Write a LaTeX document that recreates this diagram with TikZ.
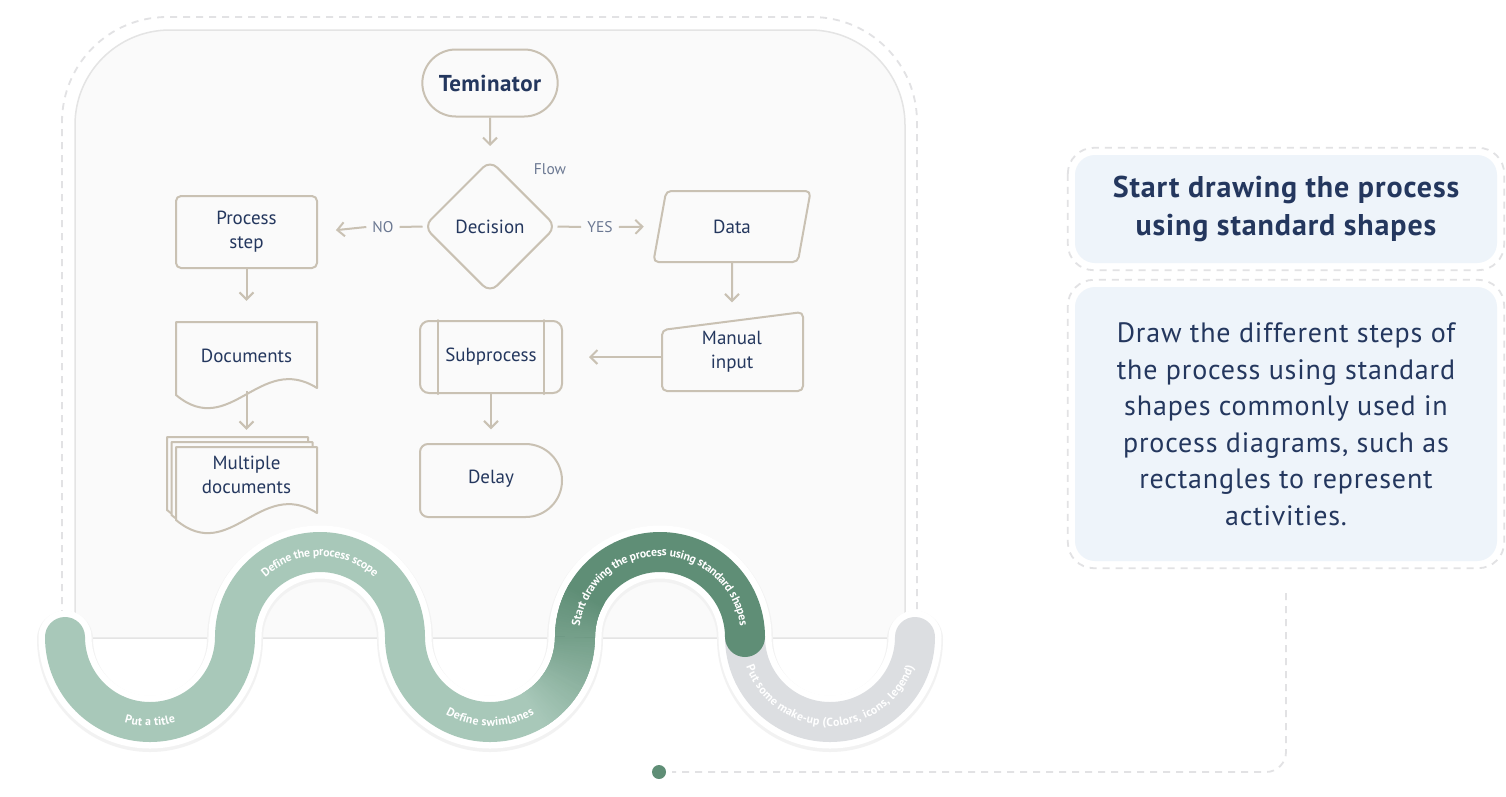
\documentclass[tikz,border=0pt]{standalone}
\usepackage{fontspec}
\setmainfont{PT Sans}
\usetikzlibrary{shapes.geometric,shapes.misc,arrows.meta,decorations.text,calc}
\definecolor{navy}{HTML}{24375E}
\definecolor{shapec}{HTML}{C9C1B3}
\definecolor{panelfill}{HTML}{FAFAFA}
\definecolor{panelline}{HTML}{E4E4E4}
\definecolor{dashc}{HTML}{E2E2E4}
\definecolor{lgreen}{HTML}{A8C8B9}
\definecolor{dgreen}{HTML}{5F8E76}
\definecolor{sgray}{HTML}{DCDEE1}
\definecolor{boxfill}{HTML}{EEF4FA}
\definecolor{flowc}{HTML}{6B7892}
\definecolor{halo}{HTML}{F2F2F2}
\newcommand\snk{\color{white}\fontsize{11.8}{14}\selectfont\bfseries}
\tikzset{
  fcline/.style={draw=shapec, line width=2pt, line cap=round, line join=round},
  fctext/.style={text=navy, font=\fontsize{19}{24}\selectfont, align=center, inner sep=0pt},
  term/.style={rounded rectangle, fcline, minimum width=142pt, minimum height=67pt, text=navy, font=\fontsize{23}{26}\selectfont\bfseries\addfontfeature{LetterSpace=2}},
  dec/.style={diamond, fcline, minimum width=133pt, minimum height=133pt, rounded corners=10pt, inner sep=0pt, fctext},
  fl/.style={text=flowc, font=\fontsize{15.5}{18}\selectfont, inner sep=6pt},
  procbox/.style={rectangle, fcline, rounded corners=5pt, minimum width=141pt, minimum height=72pt, fctext},
  plainbox/.style={rectangle, fctext},
  datab/.style={trapezium, trapezium left angle=75, trapezium right angle=105, trapezium stretches=true, fcline, rounded corners=5pt, minimum width=158pt, minimum height=71pt, fctext},
  ln/.style={draw=shapec, line width=2pt},
  arr/.style={draw=shapec, line width=2pt, -{Straight Barb[length=7pt,width=14pt]}},
  tbox/.style={rectangle, fill=boxfill, rounded corners=20pt, minimum width=422pt, text=navy, align=center},
  dashl/.style={draw=dashc, line width=1.8pt, dash pattern=on 7pt off 6pt},
  snaketxt/.style={decorate, decoration={text along path, text align=center, raise=-4pt, text={#1}}}
}
\begin{document}
\begin{tikzpicture}[x=1pt, y=-1pt]
\fill[white] (0,0) rectangle (1506,796);
\useasboundingbox (0,0) rectangle (1506,796);

% panel
\filldraw[fill=panelfill, draw=panelline, line width=1.5pt] (75,638) -- (75,125) arc[start angle=180,end angle=270,radius=95] -- (810,30) arc[start angle=270,end angle=360,radius=95] -- (905,638) -- cycle;
\draw[dashl] (62,617) -- (62,122) arc[start angle=180,end angle=270,radius=105] -- (812,17) arc[start angle=270,end angle=360,radius=105] -- (917,617);

% flowchart
\node[term] (term) at (490,83) {Teminator};
\node[dec] (dec) at (490,226.5) {Decision};
\node[fl] (flow) at (550,169) {Flow};
\node[fl] (no) at (383,227) {NO};
\node[fl] (yes) at (600,227) {YES};
\node[procbox] (proc) at (246.5,232) {Process\\step};
\node[datab] (data) at (732,226.5) {Data};

\node[plainbox, minimum width=141pt, minimum height=79pt] (man) at (732,352) {Manual\\input};
\draw[fcline, rounded corners=5pt] (662,391) -- (662,330) -- (803,312) -- (803,391) -- cycle;

\node[procbox, rounded corners=9pt, minimum width=142pt] (sub) at (491,357) {Subprocess};
\draw[fcline] ([xshift=19pt]sub.north west) -- ([xshift=19pt]sub.south west);
\draw[fcline] ([xshift=-19pt]sub.north east) -- ([xshift=-19pt]sub.south east);

\node[plainbox, minimum width=142pt, minimum height=73pt] (delay) at (491,479) {Delay};
\draw[fcline] (525.5,444) -- (428,444) arc[start angle=270,end angle=180,radius=8] -- (420,509) arc[start angle=180,end angle=90,radius=8] -- (525.5,517) arc[start angle=90,end angle=-90,radius=36.5] -- cycle;

\draw[fcline] (176,395) -- (176,322) -- (317,322) -- (317,388) .. controls (260,352) and (230,440) .. (176,395) -- cycle;
\node[plainbox, minimum width=141pt, minimum height=70pt] (doc) at (246.5,356) {Documents};

\filldraw[fcline, fill=panelfill] (167,510) -- (167,437) -- (308,437) -- (308,503) .. controls (251,467) and (221,555) .. (167,510) -- cycle;
\filldraw[fcline, fill=panelfill] (171.5,515) -- (171.5,442) -- (312.5,442) -- (312.5,508) .. controls (255.5,472) and (225.5,560) .. (171.5,515) -- cycle;
\filldraw[fcline, fill=panelfill] (176,520) -- (176,447) -- (317,447) -- (317,513) .. controls (260,477) and (230,565) .. (176,520) -- cycle;
\node[plainbox, minimum width=141pt, minimum height=56pt] (mdoc) at (246.5,475) {Multiple\\documents};

% connectors
\draw[arr, shorten >=13pt] (term) -- (dec);
\draw[ln] (dec.west) -- (no.east);
\draw[arr, shorten >=18pt] (no.west) -- (proc.east);
\draw[ln] (dec.east) -- (yes.west);
\draw[arr, shorten >=15pt] (yes.east) -- (data.west);
\draw[arr, shorten >=10pt] (data.south) -- (man.north);
\draw[arr, shorten >=26pt] (man.west |- sub.east) -- (sub.east);
\draw[arr, shorten >=13pt] (sub) -- (delay);
\draw[arr, shorten >=20pt] (proc) -- (doc);
\draw[arr, shorten >=17pt] (doc) -- (mdoc);

% snake band
\draw[halo, line width=56pt, line cap=round] (65,639) arc[start angle=180,end angle=0,radius=85] arc[start angle=180,end angle=360,radius=85] arc[start angle=180,end angle=0,radius=85] arc[start angle=180,end angle=360,radius=85] arc[start angle=180,end angle=0,radius=85];
\draw[white, line width=53pt, line cap=round] (65,637) arc[start angle=180,end angle=0,radius=85] arc[start angle=180,end angle=360,radius=85] arc[start angle=180,end angle=0,radius=85] arc[start angle=180,end angle=360,radius=85] arc[start angle=180,end angle=0,radius=85];
\draw[lgreen, line width=40pt, line cap=round] (65,637) arc[start angle=180,end angle=0,radius=85] arc[start angle=180,end angle=360,radius=85] arc[start angle=180,end angle=0,radius=85];
\draw[sgray, line width=40pt, line cap=round] (745,637) arc[start angle=180,end angle=0,radius=85];
\foreach \i in {0,...,39} {
  \pgfmathsetmacro\a{60-1.5*\i}
  \pgfmathtruncatemacro\p{70*\i/39}
  \draw[dgreen!\p!lgreen, line width=40pt] ($(490,637)+(\a:85)$) arc[start angle=\a, end angle=\a-3, radius=85];
}
\draw[dgreen, line width=40pt] (575,637) arc[start angle=180,end angle=360,radius=85];
\foreach \i in {0,...,19} {
  \pgfmathsetmacro\a{180+1.5*\i}
  \pgfmathtruncatemacro\p{70+30*\i/19}
  \draw[dgreen!\p!lgreen, line width=40pt] ($(660,637)+(\a:85)$) arc[start angle=\a, end angle=\a+3, radius=85];
}
\fill[dgreen] (745,637) circle[radius=20];

\path[snaketxt={|\snk|Put a title}] (65,637) arc[start angle=180,end angle=0,radius=85];
\path[snaketxt={|\snk|Define the process scope}] (235,637) arc[start angle=180,end angle=360,radius=85];
\path[snaketxt={|\snk|Define swimlanes}] (405,637) arc[start angle=180,end angle=0,radius=85];
\path[snaketxt={|\snk|Start drawing the process using standard shapes}] (575,655) -- (575,637) arc[start angle=180,end angle=360,radius=85] -- (745,655);
\path[snaketxt={|\snk|Put some make-up (Colors, icons, legend)}] (745,637) arc[start angle=180,end angle=0,radius=85];

% right boxes
\node[tbox, minimum height=108pt, font=\fontsize{30}{38}\selectfont\bfseries\addfontfeature{LetterSpace=3}] (title) at (1286,209) {Start drawing the process\\using standard shapes};
\draw[dashl, rounded corners=26pt] ($(title.north west)+(-7,-7)$) rectangle ($(title.south east)+(7,7)$);
\node[tbox, minimum height=274pt, font=\fontsize{28}{36.5}\selectfont\addfontfeature{LetterSpace=3}] (body) at (1286,424) {Draw the different steps of\\the process using standard\\shapes commonly used in\\process diagrams, such as\\rectangles to represent\\activities.};
\draw[dashl, rounded corners=26pt] ($(body.north west)+(-7,-7)$) rectangle ($(body.south east)+(7,7)$);

\coordinate (cstart) at ($(body.south)+(0,32)$);
\node[circle, fill=dgreen, minimum size=14pt, inner sep=0pt] (dot) at (659,772) {};
\draw[dashl, rounded corners=20pt, shorten >=6pt] (cstart) |- (dot);
\end{tikzpicture}
\end{document}
